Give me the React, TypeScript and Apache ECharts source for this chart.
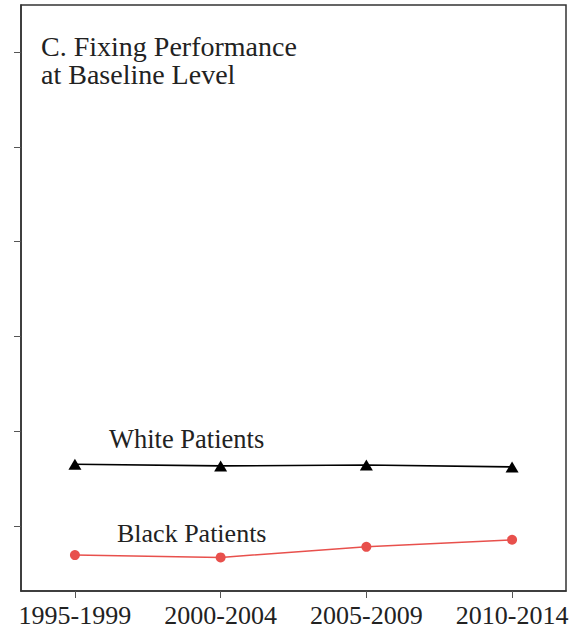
import React, { useEffect, useRef } from "react";
import * as echarts from "echarts";

const categories = ["1995-1999", "2000-2004", "2005-2009", "2010-2014"];
const whitePatients = [0.1653, 0.1635, 0.1645, 0.1624];
const blackPatients = [0.0695, 0.067, 0.0782, 0.0856];
const yTicks = [0.1, 0.2, 0.3, 0.4, 0.5, 0.6];
const titleLines = ["C. Fixing Performance", "at Baseline Level"];
const seriesNames = ["White Patients", "Black Patients"];

const SERIF = "Liberation Serif";

export default function App() {
  const ref = useRef<HTMLDivElement>(null);
  useEffect(() => {
    if (!ref.current) return;
    const chart = echarts.init(ref.current, null, { renderer: "svg" });
    const ts = (size: number, lh?: number) => ({
      fontFamily: SERIF,
      fontSize: size,
      fontWeight: "normal" as const,
      color: "#222",
      ...(lh ? { lineHeight: lh } : {}),
    });
    chart.setOption({
      animation: false,
      backgroundColor: "#ffffff",
      title: [
        { text: titleLines.join("\n"), left: 41, top: 32, padding: 0, textStyle: ts(28, 28) },
        { text: seriesNames[0], left: 109, top: 425, padding: 0, textStyle: ts(26.5) },
        { text: seriesNames[1], left: 117, top: 520, padding: 0, textStyle: ts(26) },
      ],
      grid: {
        left: 21,
        top: 5,
        right: 7,
        bottom: 36,
        show: true,
        borderColor: "#333",
        borderWidth: 1.5,
        backgroundColor: "transparent",
      },
      xAxis: {
        type: "value",
        min: -0.37,
        max: 3.37,
        splitLine: { show: false },
        axisLine: { show: true, onZero: false, lineStyle: { color: "#333", width: 1.5 } },
        axisTick: {
          show: true,
          inside: false,
          length: 7,
          customValues: [0, 1, 2, 3],
          lineStyle: { color: "#555", width: 1 },
        },
        axisLabel: {
          customValues: [0, 1, 2, 3],
          formatter: (v: number) => categories[Math.round(v)] ?? "",
          fontFamily: SERIF,
          fontSize: 26,
          color: "#222",
          margin: 11,
        },
      },
      yAxis: {
        type: "value",
        min: 0.0316,
        max: 0.6495,
        splitLine: { show: false },
        axisLine: { show: true, onZero: false, lineStyle: { color: "#333", width: 1.5 } },
        axisTick: {
          show: true,
          inside: false,
          length: 7,
          customValues: yTicks,
          lineStyle: { color: "#555", width: 1 },
        },
        axisLabel: { show: false },
      },
      series: [
        {
          name: seriesNames[0],
          type: "line",
          data: whitePatients.map((v, i) => [i, v]),
          symbol: "triangle",
          symbolSize: [13, 11],
          lineStyle: { color: "#000", width: 1.6 },
          itemStyle: { color: "#000" },
        },
        {
          name: seriesNames[1],
          type: "line",
          data: blackPatients.map((v, i) => [i, v]),
          symbol: "circle",
          symbolSize: 10,
          lineStyle: { color: "#e8504c", width: 1.5 },
          itemStyle: { color: "#e8504c" },
        },
      ],
    });
    return () => chart.dispose();
  }, []);
  return <div ref={ref} style={{ width: 573, height: 628, position: "absolute", left: 0, top: 0 }} />;
}
